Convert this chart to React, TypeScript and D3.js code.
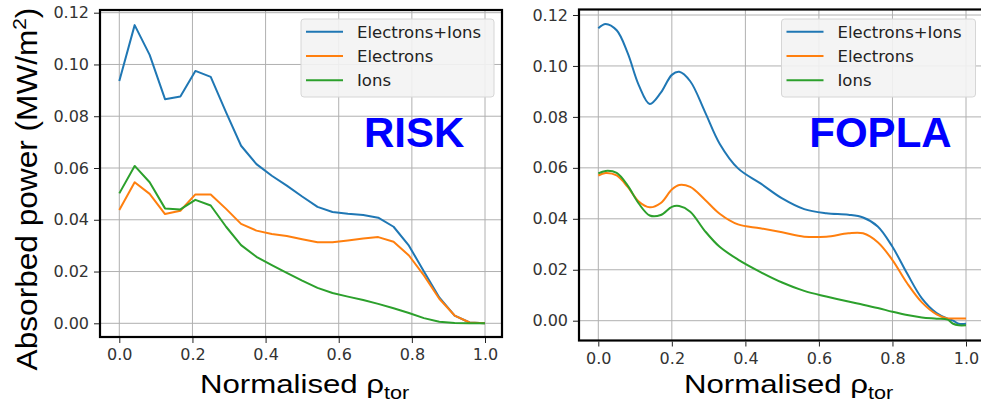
import React, { useEffect, useRef } from "react";
import * as d3 from "d3";

const xTicks = [0, 0.2, 0.4, 0.6, 0.8, 1.0];
const yTicks = [0, 0.02, 0.04, 0.06, 0.08, 0.1, 0.12];
const seriesNames = ["Electrons+Ions", "Electrons", "Ions"];
const colors = ["#1f77b4", "#ff7f0e", "#2ca02c"];

// RISK: 25 radial points, drawn as straight segments
const riskRho = [
  0, 0.042, 0.083, 0.125, 0.167, 0.208, 0.25, 0.292, 0.333, 0.375, 0.417, 0.458, 0.5,
  0.542, 0.583, 0.625, 0.667, 0.708, 0.75, 0.792, 0.833, 0.875, 0.917, 0.958, 1.0,
];
const riskTotal = [
  0.0936, 0.1152, 0.1037, 0.0866, 0.0876, 0.0975, 0.0952, 0.0815, 0.0686, 0.0615, 0.057, 0.0532, 0.049,
  0.045, 0.043, 0.0423, 0.0418, 0.0408, 0.0373, 0.03, 0.02, 0.01, 0.003, 0.0003, 0,
];
const riskElectrons = [
  0.0438, 0.0545, 0.05, 0.0422, 0.0435, 0.0498, 0.0498, 0.0442, 0.0384, 0.0358, 0.0345, 0.0337, 0.0325,
  0.0313, 0.0313, 0.032, 0.0328, 0.0333, 0.0315, 0.0262, 0.0185, 0.0095, 0.003, 0.0003, 0,
];
const riskIons = [
  0.0502, 0.0608, 0.0545, 0.0444, 0.044, 0.0477, 0.0455, 0.0373, 0.0302, 0.0257, 0.0225, 0.0195, 0.0165,
  0.0137, 0.0117, 0.0103, 0.009, 0.0075, 0.0058, 0.004, 0.002, 0.0006, 0.0001, 0, 0,
];

// FOPLA: smooth profiles
const foplaRho = [
  0, 0.02, 0.05, 0.08, 0.11, 0.14, 0.17, 0.2, 0.22, 0.25, 0.29, 0.33, 0.38, 0.44,
  0.5, 0.56, 0.62, 0.68, 0.72, 0.76, 0.8, 0.84, 0.88, 0.92, 0.95, 0.965, 0.98, 1.0,
];
const foplaTotal = [
  0.1148, 0.1165, 0.114, 0.105, 0.0925, 0.0851, 0.0895, 0.0965, 0.0977, 0.094, 0.082, 0.0695, 0.0598, 0.054,
  0.048, 0.0438, 0.0422, 0.0416, 0.0405, 0.037, 0.029, 0.0185, 0.0088, 0.003, 0.0008, 0.0, -0.0012, -0.0012,
];
const foplaElectrons = [
  0.057, 0.058, 0.057, 0.0525, 0.0468, 0.0445, 0.0462, 0.0515, 0.0533, 0.0525, 0.0475, 0.042, 0.0378, 0.0363,
  0.0347, 0.033, 0.033, 0.0343, 0.0343, 0.0308, 0.0238, 0.0147, 0.0072, 0.0025, 0.0009, 0.0009, 0.0009, 0.0009,
];
const foplaIons = [
  0.0578, 0.0588, 0.058, 0.053, 0.046, 0.0413, 0.0415, 0.0447, 0.045, 0.0428, 0.0352, 0.029, 0.024, 0.0192,
  0.015, 0.0117, 0.0095, 0.0075, 0.0063, 0.005, 0.0035, 0.0022, 0.0013, 0.0008, 0.0004, -0.0012, -0.0018, -0.0018,
];

type PanelSpec = {
  rho: number[];
  series: number[][];
  smooth: boolean;
  title: string;
  box: { left: number; right: number; top: number; bottom: number };
  xr: [number, number];
  yr: [number, number];
  legend: { x: number; y: number; w: number; h: number };
  titlePos: [number, number];
  xLabelX: number;
};

const panels: PanelSpec[] = [
  {
    rho: riskRho,
    series: [riskTotal, riskElectrons, riskIons],
    smooth: false,
    title: "RISK",
    box: { left: 100, right: 502, top: 10, bottom: 337 },
    xr: [119.3, 485],
    yr: [323.3, 12.7],
    legend: { x: 301, y: 19, w: 193, h: 78 },
    titlePos: [364, 146.7],
    xLabelX: 200,
  },
  {
    rho: foplaRho,
    series: [foplaTotal, foplaElectrons, foplaIons],
    smooth: true,
    title: "FOPLA",
    box: { left: 579, right: 984, top: 9.5, bottom: 340.5 },
    xr: [598.3, 966],
    yr: [320.7, 15],
    legend: { x: 781.5, y: 19, w: 194, h: 78 },
    titlePos: [809.3, 146.7],
    xLabelX: 684,
  },
];

function drawPanel(g: d3.Selection<SVGGElement, unknown, null, undefined>, p: PanelSpec) {
  const x = d3.scaleLinear().domain([0, 1]).range(p.xr);
  const y = d3.scaleLinear().domain([0, 0.12]).range(p.yr);
  const { left, right, top, bottom } = p.box;

  // grid
  g.append("g")
    .selectAll("line")
    .data(xTicks)
    .join("line")
    .attr("x1", (d) => x(d)).attr("x2", (d) => x(d))
    .attr("y1", top).attr("y2", bottom)
    .attr("stroke", "#b0b0b0").attr("stroke-width", 1);
  g.append("g")
    .selectAll("line")
    .data(yTicks)
    .join("line")
    .attr("x1", left).attr("x2", right)
    .attr("y1", (d) => y(d)).attr("y2", (d) => y(d))
    .attr("stroke", "#b0b0b0").attr("stroke-width", 1);

  // curves
  const line = d3
    .line<number>()
    .x((_, i) => x(p.rho[i]))
    .y((d) => y(d))
    .curve(p.smooth ? d3.curveCatmullRom.alpha(0.5) : d3.curveLinear);
  p.series.forEach((s, k) => {
    g.append("path")
      .attr("d", line(s))
      .attr("fill", "none")
      .attr("stroke", colors[k])
      .attr("stroke-width", 2)
      .attr("stroke-linejoin", "round");
  });

  // frame
  g.append("rect")
    .attr("x", left).attr("y", top)
    .attr("width", right - left).attr("height", bottom - top)
    .attr("fill", "none").attr("stroke", "#000").attr("stroke-width", 2.2);

  // axes
  const xAxis = d3.axisBottom(x).tickValues(xTicks).tickFormat(d3.format(".1f")).tickSizeOuter(0).tickSize(5).tickPadding(6);
  const yAxis = d3.axisLeft(y).tickValues(yTicks).tickFormat(d3.format(".2f")).tickSizeOuter(0).tickSize(5).tickPadding(5);
  const xa = g.append("g").attr("transform", `translate(0,${bottom + 1})`).call(xAxis);
  const ya = g.append("g").attr("transform", `translate(${left - 1},0)`).call(yAxis);
  [xa, ya].forEach((a) => {
    a.select(".domain").remove();
    a.selectAll("line").attr("stroke", "#222");
    a.selectAll("text")
      .attr("fill", "#333")
      .style("font-family", "'DejaVu Sans', sans-serif")
      .style("font-size", "16px");
  });

  // legend
  const L = p.legend;
  g.append("rect")
    .attr("x", L.x).attr("y", L.y).attr("width", L.w).attr("height", L.h)
    .attr("rx", 3).attr("fill", "#f3f3f3").attr("fill-opacity", 0.9)
    .attr("stroke", "#d6d6d6");
  seriesNames.forEach((name, k) => {
    const ly = L.y + 12.7 + k * 24.3;
    g.append("line")
      .attr("x1", L.x + 5).attr("x2", L.x + 42)
      .attr("y1", ly).attr("y2", ly)
      .attr("stroke", colors[k]).attr("stroke-width", 2);
    g.append("text")
      .attr("x", L.x + 56).attr("y", ly + 5.8)
      .attr("fill", "#222")
      .style("font-family", "'DejaVu Sans', sans-serif")
      .style("font-size", "16.5px")
      .text(name);
  });

  // code name
  g.append("text")
    .attr("x", p.titlePos[0]).attr("y", p.titlePos[1])
    .attr("fill", "#0000ff")
    .style("font-family", "'Liberation Sans', Arial, sans-serif")
    .style("font-weight", "bold")
    .style("font-size", "42px")
    .text(p.title);

  // x label (stretched horizontally like the source)
  const xl = g.append("text")
    .attr("transform", `translate(${p.xLabelX},393) scale(1.2,1)`)
    .attr("fill", "#000")
    .style("font-family", "'Liberation Sans', Arial, sans-serif")
    .style("font-size", "26px");
  xl.append("tspan").text("Normalised ρ");
  xl.append("tspan").attr("dy", 6).style("font-size", "18px").text("tor");
}

export default function App() {
  const ref = useRef<SVGSVGElement>(null);

  useEffect(() => {
    const svg = d3.select(ref.current);
    svg.selectAll("*").remove();
    panels.forEach((p) => drawPanel(svg.append("g"), p));

    // shared y label
    const yl = svg.append("text")
      .attr("transform", "translate(37,189) rotate(-90) scale(1.09,1)")
      .attr("text-anchor", "middle")
      .attr("fill", "#000")
      .style("font-family", "'Liberation Sans', Arial, sans-serif")
      .style("font-size", "29px");
    yl.append("tspan").text("Absorbed power (MW/m");
    yl.append("tspan").attr("dy", -11).style("font-size", "19px").text("2");
    yl.append("tspan").attr("dy", 11).text(")");
  }, []);

  return (
    <svg
      ref={ref}
      width={981}
      height={404}
      style={{ position: "absolute", left: 0, top: 0, background: "#fff" }}
    />
  );
}
